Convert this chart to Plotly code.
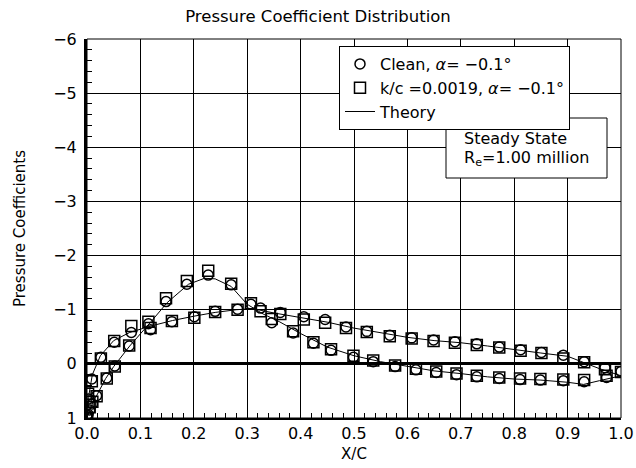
import plotly.graph_objects as go

# ---- data ----
# Surface 1 (sharp suction peak near x/c = 0.22)
x_s1 = [0.0, 0.002, 0.005, 0.010, 0.018, 0.037, 0.052, 0.079, 0.115, 0.148, 0.187, 0.227,
        0.270, 0.307, 0.346, 0.386, 0.424, 0.457, 0.499, 0.536, 0.577, 0.616, 0.654, 0.692,
        0.730, 0.772, 0.811, 0.849, 0.892, 0.931, 0.973]
cp_s1_clean = [0.98, 0.93, 0.85, 0.74, 0.59, 0.26, 0.04, -0.33, -0.74, -1.15, -1.47, -1.64,
               -1.46, -1.10, -0.76, -0.57, -0.38, -0.25, -0.12, -0.04, 0.05, 0.11, 0.16, 0.20,
               0.24, 0.27, 0.29, 0.30, 0.31, 0.33, 0.25]
cp_s1_rough = [1.00, 0.55, 0.80, 0.70, 0.60, 0.27, 0.05, -0.34, -0.78, -1.21, -1.53, -1.72,
               -1.48, -1.12, -0.83, -0.60, -0.40, -0.27, -0.15, -0.06, 0.03, 0.09, 0.14, 0.18,
               0.22, 0.25, 0.27, 0.28, 0.29, 0.30, 0.22]

# Surface 2 (gradual suction)
x_s2 = [0.0, 0.003, 0.009, 0.026, 0.051, 0.083, 0.119, 0.159, 0.201, 0.240, 0.282, 0.325,
        0.362, 0.406, 0.446, 0.485, 0.524, 0.567, 0.608, 0.649, 0.689, 0.730, 0.772, 0.812,
        0.851, 0.892, 0.931, 0.970, 1.0]
cp_s2_clean = [0.95, 0.65, 0.28, -0.12, -0.40, -0.58, -0.63, -0.78, -0.87, -0.97, -1.01, -1.03,
               -0.95, -0.87, -0.82, -0.68, -0.60, -0.53, -0.48, -0.44, -0.41, -0.37, -0.31,
               -0.26, -0.21, -0.16, -0.04, 0.07, 0.14]
cp_s2_rough = [1.00, 0.70, 0.32, -0.10, -0.42, -0.70, -0.66, -0.79, -0.85, -0.96, -1.00, -0.97,
               -0.92, -0.82, -0.76, -0.66, -0.59, -0.51, -0.47, -0.42, -0.39, -0.35, -0.30,
               -0.24, -0.20, -0.10, -0.03, 0.10, 0.15]

# Theory curves
x_th1 = [0.0, 0.005, 0.012, 0.02, 0.035, 0.05, 0.08, 0.12, 0.15, 0.19, 0.22, 0.24, 0.27, 0.30,
         0.33, 0.36, 0.40, 0.45, 0.50, 0.55, 0.60, 0.65, 0.70, 0.75, 0.80, 0.85, 0.90, 0.93,
         0.96, 1.0]
cp_th1 = [1.0, 0.85, 0.70, 0.55, 0.27, 0.05, -0.33, -0.78, -1.13, -1.47, -1.58, -1.57, -1.43,
          -1.10, -0.92, -0.78, -0.56, -0.31, -0.15, -0.04, 0.05, 0.13, 0.18, 0.24, 0.28, 0.30,
          0.34, 0.38, 0.31, 0.22]
x_th2 = [0.0, 0.004, 0.01, 0.025, 0.05, 0.08, 0.12, 0.16, 0.20, 0.24, 0.28, 0.31, 0.35, 0.40,
         0.45, 0.50, 0.55, 0.60, 0.65, 0.70, 0.75, 0.80, 0.85, 0.90, 0.93, 0.96, 1.0]
cp_th2 = [1.0, 0.55, 0.20, -0.15, -0.43, -0.58, -0.70, -0.80, -0.88, -0.95, -1.00, -1.02, -0.94,
          -0.86, -0.77, -0.66, -0.57, -0.49, -0.43, -0.39, -0.33, -0.26, -0.20, -0.14, -0.03,
          0.09, 0.22]

legend_clean = "Clean, <i>α</i>= −0.1°"
legend_rough = "k/c =0.0019, <i>α</i>= −0.1°"
legend_theory = "Theory"
box_lines = ["Steady State", "R<sub>e</sub>=1.00 million"]

FONT = "DejaVu Sans, Verdana, sans-serif"

fig = go.Figure()

circ = dict(symbol="circle-open", size=10, color="black", line=dict(color="black", width=1.5))
sq = dict(symbol="square-open", size=11, color="black", line=dict(color="black", width=1.5))

fig.add_trace(go.Scatter(x=x_th1, y=cp_th1, mode="lines", line=dict(color="black", width=1),
                         name=legend_theory, showlegend=False, legendrank=3))
fig.add_trace(go.Scatter(x=x_th2, y=cp_th2, mode="lines", line=dict(color="black", width=1),
                         name=legend_theory, showlegend=True, legendrank=3))
fig.add_trace(go.Scatter(x=x_s1, y=cp_s1_rough, mode="markers", marker=sq,
                         name=legend_rough, showlegend=True, legendrank=2))
fig.add_trace(go.Scatter(x=x_s2, y=cp_s2_rough, mode="markers", marker=sq,
                         name=legend_rough, showlegend=False))
fig.add_trace(go.Scatter(x=x_s1, y=cp_s1_clean, mode="markers", marker=circ,
                         name=legend_clean, showlegend=True, legendrank=1))
fig.add_trace(go.Scatter(x=x_s2, y=cp_s2_clean, mode="markers", marker=circ,
                         name=legend_clean, showlegend=False))

L, R, T, B = 87, 15, 39, 50
W, H = 636, 468
pw, ph = W - L - R, H - T - B

def px_x(p):
    return (p - L) / pw

def px_y(p):
    return 1 - (p - T) / ph

fig.update_layout(
    width=W, height=H,
    margin=dict(l=L, r=R, t=T, b=B, pad=0),
    paper_bgcolor="white", plot_bgcolor="white",
    font=dict(family=FONT, color="black", size=15),
    title=dict(text="Pressure Coefficient Distribution", x=318 / W, xref="container",
               xanchor="center", y=1 - 16 / H, yanchor="middle",
               font=dict(size=16.5, family=FONT)),
    showlegend=True,
    legend=dict(x=px_x(339), y=px_y(46), xanchor="left", yanchor="top",
                bordercolor="black", borderwidth=1, bgcolor="white",
                font=dict(size=16, family=FONT), tracegroupgap=0, itemwidth=30),
    xaxis=dict(range=[0, 1], dtick=0.1, tick0=0, tickformat=".1f", automargin=False,
               showgrid=True, gridcolor="black", gridwidth=1,
               showline=True, linecolor="black", linewidth=2, mirror=False,
               ticks="inside", ticklen=5, tickcolor="black", tickwidth=1,
               minor=dict(dtick=0.02, ticks="inside", ticklen=5, tickcolor="black", showgrid=False),
               tickfont=dict(size=16), zeroline=False, ticklabelstandoff=0,
               title=dict(text="X/C", font=dict(size=15), standoff=6)),
    yaxis=dict(range=[1, -6], dtick=1, tick0=0, automargin=False,
               showgrid=True, gridcolor="black", gridwidth=1,
               showline=True, linecolor="black", linewidth=3, mirror=False,
               ticks="inside", ticklen=5, tickcolor="black", tickwidth=1,
               minor=dict(dtick=0.2, ticks="inside", ticklen=5, tickcolor="black", showgrid=False),
               tickfont=dict(size=16), zeroline=True, zerolinecolor="black", zerolinewidth=3,
               ticklabelstandoff=4,
               title=dict(text="Pressure Coefficients", font=dict(size=15), standoff=24)),
)

# thin frame on top/right
fig.add_shape(type="rect", xref="paper", yref="paper", x0=0, x1=1, y0=0, y1=1,
              line=dict(color="black", width=1), layer="above")
# text box
fig.add_shape(type="rect", xref="paper", yref="paper",
              x0=px_x(446), x1=px_x(607), y0=px_y(178), y1=px_y(118),
              line=dict(color="black", width=1), fillcolor="white", layer="above")
for txt, yc in zip(box_lines, [138, 158]):
    fig.add_annotation(xref="paper", yref="paper", x=px_x(462), y=px_y(yc),
                       xanchor="left", yanchor="middle", align="left", showarrow=False,
                       text=txt, font=dict(size=16, family=FONT))

fig.write_html("out.html", config={"displayModeBar": False},
               post_script="document.body.style.margin='0';")
